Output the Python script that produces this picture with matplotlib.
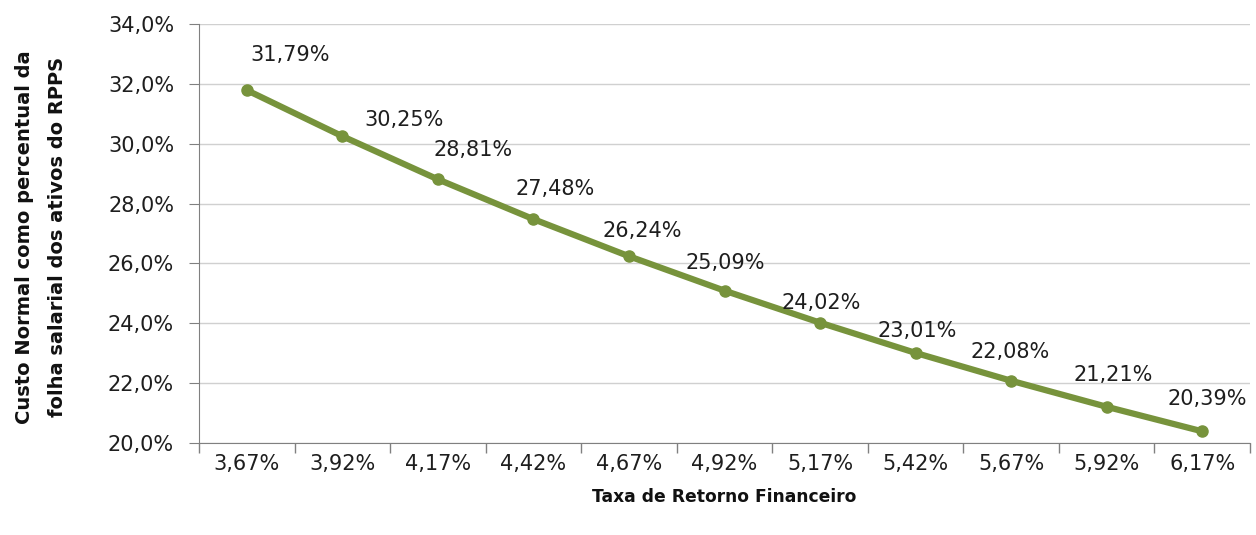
import matplotlib
matplotlib.use("Agg")
import matplotlib.pyplot as plt
from matplotlib.ticker import FuncFormatter, FixedLocator, NullFormatter

categories = ["3,67%", "3,92%", "4,17%", "4,42%", "4,67%", "4,92%",
              "5,17%", "5,42%", "5,67%", "5,92%", "6,17%"]
values = [31.79, 30.25, 28.81, 27.48, 26.24, 25.09, 24.02, 23.01, 22.08, 21.21, 20.39]
y_ticks = [20, 22, 24, 26, 28, 30, 32, 34]

# label offsets in points (style, not data)
label_offsets = [(31.5, 25), (44.5, 12), (25.5, 21), (15.5, 22), (9.5, 18), (0.5, 20),
                 (0.5, 14.5), (1.5, 16), (-0.5, 21), (4.5, 23), (3.5, 23)]

plt.rcParams['font.family'] = ['DejaVu Sans']

fig = plt.figure(figsize=(12.56, 5.35), dpi=100)
ax = fig.add_axes([199/1256, 1 - 443/535, (1250 - 199)/1256, (443 - 24)/535])

color = "#77933C"
txt = "#1e1e1e"
x = list(range(len(categories)))
ax.plot(x, values, color=color, lw=4.5, marker="o", markersize=8, zorder=3,
        solid_capstyle="round")

for i, (v, off) in enumerate(zip(values, label_offsets)):
    ax.annotate(f"{v:.2f}%".replace(".", ","), (i, v), xytext=off,
                textcoords="offset points", ha="center", va="center",
                fontsize=15, color=txt)

ax.set_xlim(-0.5, len(categories) - 0.5)
ax.set_ylim(20, 34)
ax.set_yticks(y_ticks)
ax.yaxis.set_major_formatter(FuncFormatter(lambda v, p: f"{v:.1f}%".replace(".", ",")))
ax.grid(axis="y", color="#d0d0d0", lw=1)
ax.set_axisbelow(True)

ax.xaxis.set_major_locator(FixedLocator([i - 0.5 for i in range(len(categories) + 1)]))
ax.xaxis.set_major_formatter(NullFormatter())
ax.xaxis.set_minor_locator(FixedLocator(x))
ax.set_xticklabels(categories, minor=True)
ax.tick_params(axis="x", which="major", length=7, color="#808080", width=1)
ax.tick_params(axis="x", which="minor", length=0, pad=8, labelsize=15, labelcolor=txt)
ax.tick_params(axis="y", length=7, color="#808080", pad=11, labelsize=15, labelcolor=txt)

for s in ["top", "right"]:
    ax.spines[s].set_visible(False)
for s in ["left", "bottom"]:
    ax.spines[s].set_color("#808080")

ax.set_xlabel("Taxa de Retorno Financeiro", fontsize=12.3, fontweight="bold", color="#111111")
ax.xaxis.set_label_coords(0.5, (443 - 488) / 419)
ax.set_ylabel("Custo Normal como percentual da\nfolha salarial dos ativos do RPPS",
              fontsize=14, fontweight="bold", linespacing=1.9, color="#111111")
ax.yaxis.set_label_coords((67 - 199) / 1051, (443 - 237) / 419)

fig.savefig("out.png", dpi=100)
